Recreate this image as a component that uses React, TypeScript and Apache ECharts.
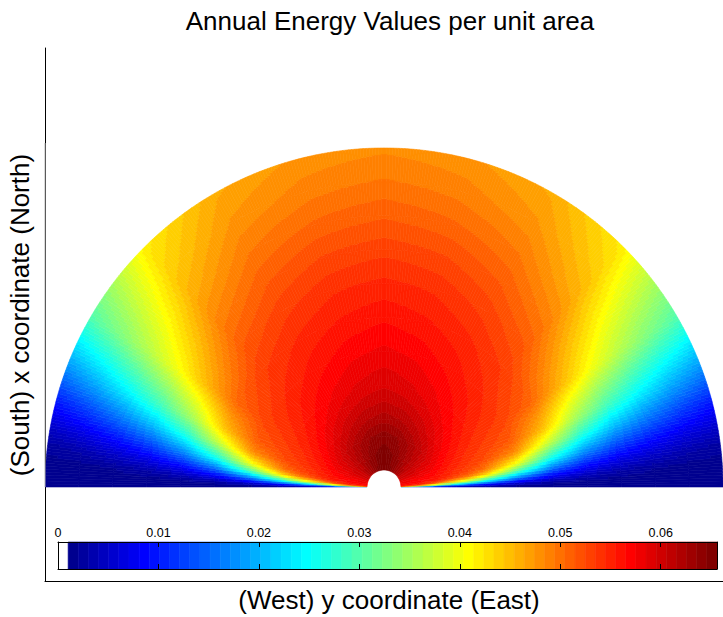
import React, { useEffect, useRef } from "react";
import * as echarts from "echarts";

const W = 723;
const H = 617;
const FONT = '"Liberation Sans", Arial, Helvetica, sans-serif';

// Sample grid of the field: angle from the East-West baseline (deg) and
// distance from the centre as a fraction of the field radius.
// The field is mirror-symmetric about the North axis, so one quadrant is stored.
const ANGLES_DEG = [0, 1, 2, 4, 7, 10, 15, 20, 30, 45, 60, 75, 90];
const RADII = [0.05, 0.1, 0.15, 0.2, 0.26, 0.3, 0.4, 0.5, 0.6, 0.7, 0.8, 0.9, 1.0];

// Annual energy per unit area: one row per radius, one column per angle.
const ENERGY_R005 = [0.0015, 0.0353, 0.0528, 0.0564, 0.0569, 0.0573, 0.0581, 0.0588, 0.0602, 0.0621, 0.0637, 0.0649, 0.0656];
const ENERGY_R010 = [0.0015, 0.0233, 0.0438, 0.0553, 0.0565, 0.057, 0.0578, 0.0585, 0.0599, 0.0617, 0.0633, 0.0645, 0.0652];
const ENERGY_R015 = [0.0015, 0.0144, 0.0318, 0.0505, 0.0555, 0.0561, 0.0569, 0.0576, 0.0589, 0.0608, 0.0623, 0.0636, 0.0642];
const ENERGY_R020 = [0.0015, 0.0093, 0.0223, 0.042, 0.0524, 0.0543, 0.0551, 0.0558, 0.0571, 0.0589, 0.0604, 0.0616, 0.0622];
const ENERGY_R026 = [0.0015, 0.0065, 0.0163, 0.0342, 0.048, 0.052, 0.0534, 0.0541, 0.0554, 0.0571, 0.0586, 0.0597, 0.0603];
const ENERGY_R030 = [0.0015, 0.0049, 0.0126, 0.0284, 0.0436, 0.0498, 0.0525, 0.0533, 0.0545, 0.0563, 0.0577, 0.0588, 0.0594];
const ENERGY_R040 = [0.0015, 0.0023, 0.0064, 0.016, 0.0298, 0.0397, 0.0482, 0.0512, 0.0531, 0.0547, 0.0561, 0.0572, 0.0578];
const ENERGY_R050 = [0.0015, 0.0015, 0.0032, 0.0085, 0.0175, 0.0262, 0.0376, 0.0446, 0.0507, 0.0533, 0.0547, 0.0557, 0.0563];
const ENERGY_R060 = [0.0015, 0.0015, 0.0019, 0.0051, 0.011, 0.0174, 0.0273, 0.0354, 0.0455, 0.0512, 0.0531, 0.0543, 0.0548];
const ENERGY_R070 = [0.0015, 0.0015, 0.0015, 0.0031, 0.0073, 0.0122, 0.0208, 0.0287, 0.0405, 0.0486, 0.0513, 0.0526, 0.0531];
const ENERGY_R080 = [0.0015, 0.0015, 0.0015, 0.002, 0.0052, 0.0091, 0.0165, 0.0239, 0.0362, 0.0459, 0.0494, 0.0507, 0.0513];
const ENERGY_R090 = [0.0015, 0.0015, 0.0015, 0.0015, 0.0035, 0.0066, 0.013, 0.0199, 0.0326, 0.0437, 0.0476, 0.049, 0.0496];
const ENERGY_R100 = [0.0015, 0.0015, 0.0015, 0.0015, 0.0024, 0.0049, 0.0103, 0.0168, 0.0296, 0.0419, 0.0462, 0.0477, 0.0482];

const ENERGY = [
  ENERGY_R005, ENERGY_R010, ENERGY_R015, ENERGY_R020, ENERGY_R026, ENERGY_R030, ENERGY_R040,
  ENERGY_R050, ENERGY_R060, ENERGY_R070, ENERGY_R080, ENERGY_R090, ENERGY_R100,
];

// Colour bar
const CBAR_TICKS = [0, 0.01, 0.02, 0.03, 0.04, 0.05, 0.06];
const C_MAX = 0.0656;
const N_COLORS = 65; // white + jet(64)

function jet(m: number): string[] {
  const n = Math.ceil(m / 4);
  const u: number[] = [];
  for (let i = 1; i <= n; i++) u.push(i / n);
  for (let i = 1; i < n; i++) u.push(1);
  for (let i = n; i >= 1; i--) u.push(i / n);
  const g0 = Math.ceil(n / 2) - (m % 4 === 1 ? 1 : 0);
  const R = new Array(m).fill(0);
  const G = new Array(m).fill(0);
  const B = new Array(m).fill(0);
  u.forEach((val, k) => {
    const gi = g0 + k + 1;
    const ri = gi + n;
    const bi = gi - n;
    if (ri >= 1 && ri <= m) R[ri - 1] = val;
    if (gi >= 1 && gi <= m) G[gi - 1] = val;
    if (bi >= 1 && bi <= m) B[bi - 1] = val;
  });
  const hex = (x: number) => Math.round(x * 255).toString(16).padStart(2, "0");
  return R.map((_, i) => "#" + hex(R[i]) + hex(G[i]) + hex(B[i]));
}

const PALETTE = ["#ffffff", ...jet(N_COLORS - 1)];

function colorIndex(v: number): number {
  const k = Math.floor((v / C_MAX) * N_COLORS);
  return Math.max(0, Math.min(N_COLORS - 1, k));
}

const D2R = Math.PI / 180;

// one data item per grid cell, on both sides of the North axis
const fieldCells: number[][] = [];
[1, -1].forEach((side) => {
  for (let ai = 0; ai < ANGLES_DEG.length - 1; ai++) {
    for (let ri = 0; ri < RADII.length - 1; ri++) {
      const a = ((ANGLES_DEG[ai] + ANGLES_DEG[ai + 1]) / 2) * D2R;
      const r = (RADII[ri] + RADII[ri + 1]) / 2;
      fieldCells.push([side * r * Math.cos(a), r * Math.sin(a), ai, ri, side]);
    }
  }
});

const cbarBins: number[][] = [];
for (let k = 0; k < N_COLORS; k++) {
  cbarBins.push([(k * C_MAX) / N_COLORS, ((k + 1) * C_MAX) / N_COLORS, k]);
}

// cell drawn with interpolated shading between its four corner samples
function renderCell(params: any, api: any) {
  const ai = api.value(2);
  const ri = api.value(3);
  const side = api.value(4);
  const c = api.coord([0, 0]);
  const unit = api.size([1, 0])[0];
  const a0 = ANGLES_DEG[ai] * D2R;
  const a1 = ANGLES_DEG[ai + 1] * D2R;
  const r0 = RADII[ri];
  const r1 = RADII[ri + 1];
  const v00 = ENERGY[ri][ai];
  const v01 = ENERGY[ri][ai + 1];
  const v10 = ENERGY[ri + 1][ai];
  const v11 = ENERGY[ri + 1][ai + 1];
  const nA = Math.max(1, Math.ceil(((a1 - a0) * r1 * unit) / 3));
  const nR = Math.max(1, Math.ceil((r1 - r0) * unit));
  const children: any[] = [];
  for (let i = 0; i < nA; i++) {
    const t = (i + 0.5) / nA;
    const aS = a0 + ((a1 - a0) * i) / nA;
    const aE = a0 + ((a1 - a0) * (i + 1)) / nA;
    const startAngle = side > 0 ? -aE : aS - Math.PI;
    const endAngle = side > 0 ? -aS : aE - Math.PI;
    let runStart = 0;
    let runColor = -1;
    for (let j = 0; j <= nR; j++) {
      let k = -1;
      if (j < nR) {
        const s = (j + 0.5) / nR;
        const v = (1 - t) * (1 - s) * v00 + t * (1 - s) * v01 + (1 - t) * s * v10 + t * s * v11;
        k = colorIndex(v);
      }
      if (j === nR || k !== runColor) {
        if (runColor >= 0) {
          children.push({
            type: "sector",
            silent: true,
            shape: {
              cx: c[0],
              cy: c[1],
              r0: (r0 + ((r1 - r0) * runStart) / nR) * unit,
              r: (r0 + ((r1 - r0) * j) / nR) * unit,
              startAngle,
              endAngle,
              clockwise: true,
            },
            style: { fill: PALETTE[runColor], stroke: PALETTE[runColor], lineWidth: 0.6 },
          });
        }
        runStart = j;
        runColor = k;
      }
    }
  }
  return { type: "group", children };
}

function renderBin(params: any, api: any) {
  const p0 = api.coord([api.value(0), 1]);
  const p1 = api.coord([api.value(1), 0]);
  const k = api.value(2);
  return {
    type: "rect",
    silent: true,
    shape: { x: p0[0], y: p0[1], width: p1[0] - p0[0], height: p1[1] - p0[1] },
    style: { fill: PALETTE[k], stroke: PALETTE[k], lineWidth: 0.6 },
  };
}

const tickLabel = (v: number) => {
  const hit = CBAR_TICKS.find((t) => Math.abs(t - v) < 1e-9);
  if (hit === undefined) return "";
  return hit === 0 ? "0" : hit.toFixed(2);
};

export default function App() {
  const ref = useRef<HTMLDivElement>(null);

  useEffect(() => {
    document.body.style.margin = "0";
    const chart = echarts.init(ref.current!, undefined, { renderer: "svg", width: W, height: H });
    const noAxisBits = {
      axisTick: { show: false },
      axisLabel: { show: false },
      splitLine: { show: false },
    };
    chart.setOption({
      animation: false,
      backgroundColor: "#ffffff",
      textStyle: { fontFamily: FONT },
      grid: [
        { left: 45, top: 48, width: 686, height: 533 },
        { left: 58, top: 542, width: 659, height: 27 },
      ],
      xAxis: [
        {
          gridIndex: 0,
          type: "value",
          min: -1,
          max: 1,
          axisLine: { show: true, onZero: false, lineStyle: { color: "#000", width: 1 } },
          ...noAxisBits,
        },
        {
          gridIndex: 1,
          type: "value",
          min: 0,
          max: C_MAX,
          interval: 0.01,
          position: "top",
          z: 10,
          axisLine: { show: true, onZero: false, lineStyle: { color: "#000", width: 1 } },
          axisTick: { show: true, inside: true, length: 5, lineStyle: { color: "#000" } },
          axisLabel: {
            show: true,
            formatter: tickLabel,
            fontSize: 12.5,
            color: "#000",
            margin: 3,
            fontFamily: FONT,
          },
          splitLine: { show: false },
        },
        {
          gridIndex: 1,
          type: "value",
          min: 0,
          max: C_MAX,
          interval: 0.01,
          position: "bottom",
          z: 10,
          axisLine: { show: true, onZero: false, lineStyle: { color: "#000", width: 1 } },
          axisTick: { show: true, inside: true, length: 5, lineStyle: { color: "#000" } },
          axisLabel: { show: false },
          splitLine: { show: false },
        },
      ],
      yAxis: [
        {
          gridIndex: 0,
          type: "value",
          min: -0.2741,
          max: 1.2799,
          axisLine: { show: true, onZero: false, lineStyle: { color: "#000", width: 1 } },
          ...noAxisBits,
        },
        {
          gridIndex: 1,
          type: "value",
          min: 0,
          max: 1,
          position: "left",
          z: 10,
          axisLine: { show: true, onZero: false, lineStyle: { color: "#000", width: 1 } },
          ...noAxisBits,
        },
        {
          gridIndex: 1,
          type: "value",
          min: 0,
          max: 1,
          position: "right",
          z: 10,
          axisLine: { show: true, onZero: false, lineStyle: { color: "#000", width: 1 } },
          ...noAxisBits,
        },
      ],
      series: [
        {
          type: "custom",
          name: "field",
          xAxisIndex: 0,
          yAxisIndex: 0,
          renderItem: renderCell,
          encode: { x: 0, y: 1 },
          data: fieldCells,
          silent: true,
          clip: true,
        },
        {
          type: "custom",
          name: "colorbar",
          xAxisIndex: 1,
          yAxisIndex: 1,
          renderItem: renderBin,
          encode: { x: [0, 1] },
          data: cbarBins,
          silent: true,
        },
      ],
      graphic: [
        {
          type: "line",
          z: 100,
          silent: true,
          shape: { x1: 45, y1: 143, x2: 45, y2: 487 },
          style: { stroke: "#b4b4b4", lineWidth: 1 },
        },
        {
          type: "text",
          x: 390,
          y: 21,
          silent: true,
          style: {
            text: "Annual Energy Values per unit area",
            fontSize: 26,
            fontFamily: FONT,
            fill: "#000",
            align: "center",
            verticalAlign: "middle",
          },
        },
        {
          type: "text",
          x: 20,
          y: 315,
          rotation: Math.PI / 2,
          silent: true,
          style: {
            text: "(South) x coordinate (North)",
            fontSize: 26,
            fontFamily: FONT,
            fill: "#000",
            align: "center",
            verticalAlign: "middle",
          },
        },
        {
          type: "text",
          x: 389,
          y: 600,
          silent: true,
          style: {
            text: "(West) y coordinate (East)",
            fontSize: 26,
            fontFamily: FONT,
            fill: "#000",
            align: "center",
            verticalAlign: "middle",
          },
        },
      ],
    });
    return () => chart.dispose();
  }, []);

  return (
    <div
      ref={ref}
      style={{ position: "absolute", left: 0, top: 0, width: W, height: H, background: "#fff" }}
    />
  );
}
